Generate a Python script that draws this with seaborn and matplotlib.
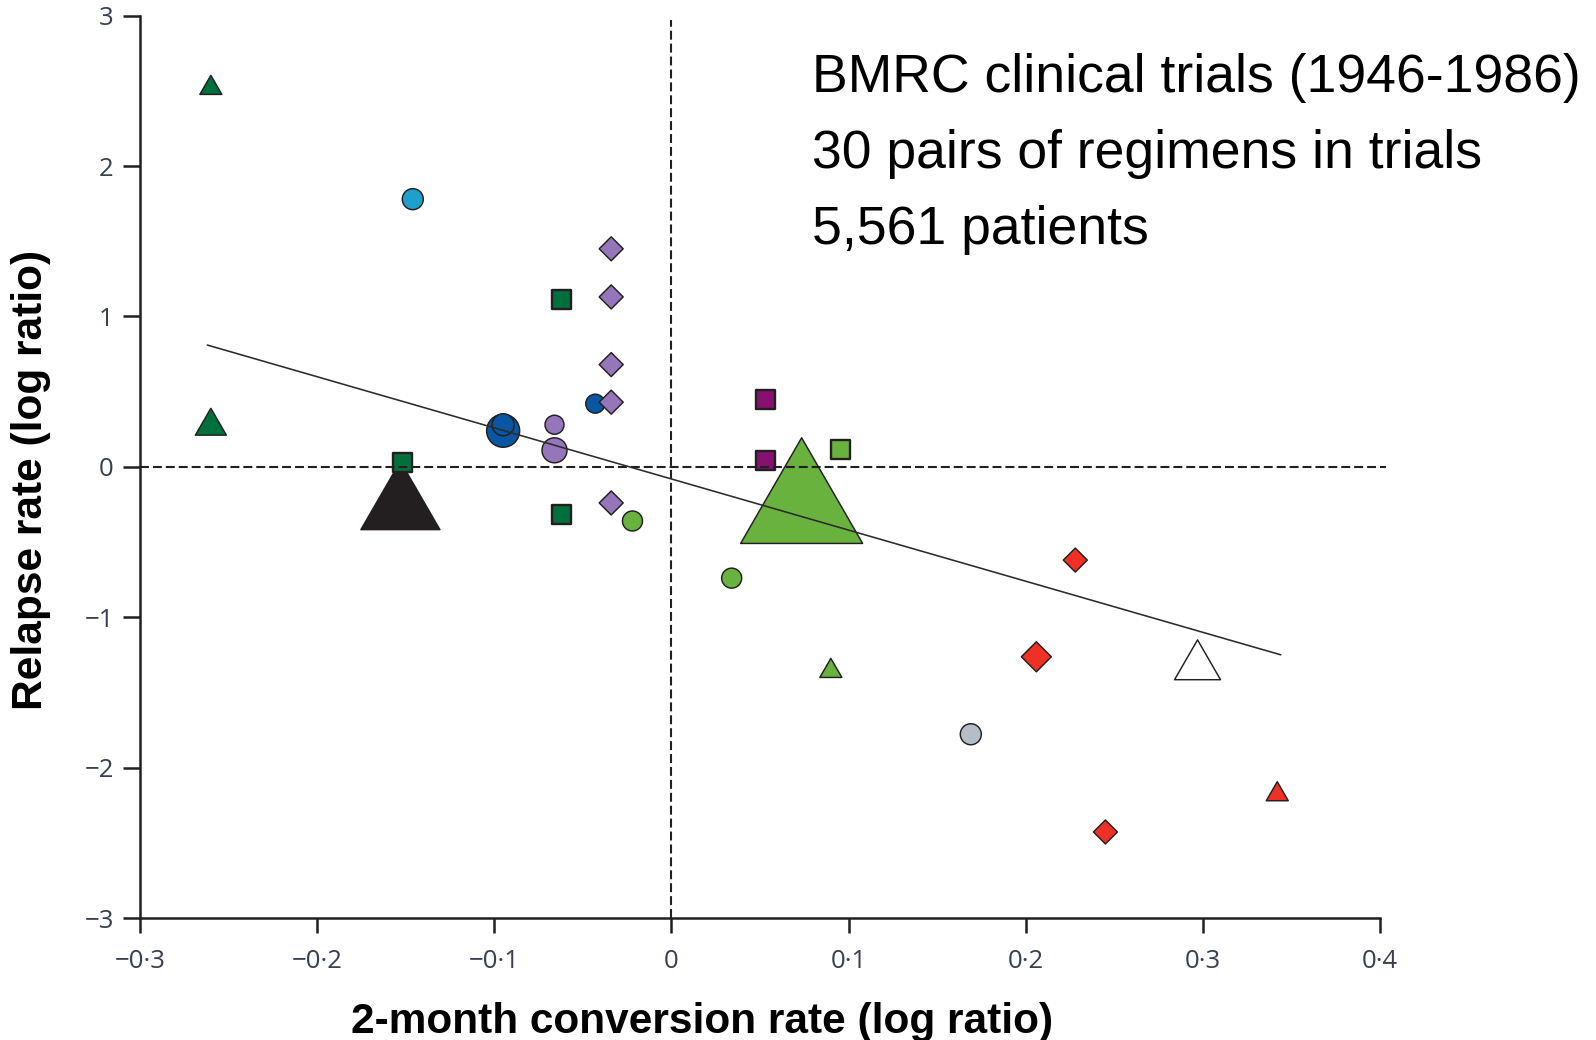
import matplotlib
matplotlib.use("Agg")
import matplotlib.pyplot as plt
from matplotlib.markers import MarkerStyle
from matplotlib.path import Path
import pandas as pd
import seaborn as sns

# Log ratios for each pair of regimens compared in the BMRC trials
conversion = [-0.260, -0.260, -0.146, -0.062, -0.152, -0.062,
              -0.034, -0.034, -0.034, -0.034, -0.034,
              -0.043, -0.095, -0.095, -0.066, -0.066,
              -0.153, -0.022, 0.034, 0.053, 0.053, 0.0955,
              0.0735, 0.090, 0.228, 0.206, 0.245, 0.342, 0.297, 0.169]
relapse = [2.54, 0.30, 1.78, 1.11, 0.03, -0.32,
           1.45, 1.13, 0.68, 0.43, -0.24,
           0.42, 0.24, 0.28, 0.28, 0.11,
           -0.19, -0.36, -0.74, 0.45, 0.04, 0.116,
           -0.158, -1.337, -0.62, -1.263, -2.428, -2.157, -1.283, -1.778]
group = ["forest", "forest", "cyan", "forest", "forest", "forest",
         "lilac", "lilac", "lilac", "lilac", "lilac",
         "blue", "blue", "blue", "lilac", "lilac",
         "black", "lime", "lime", "plum", "plum", "lime",
         "lime", "lime", "red", "red", "red", "red", "white", "grey"]
shape = ["triangle", "triangle", "circle", "square", "square", "square",
         "diamond", "diamond", "diamond", "diamond", "diamond",
         "circle", "circle", "circle", "circle", "circle",
         "triangle", "circle", "circle", "square", "square", "square",
         "triangle", "triangle", "diamond", "diamond", "diamond",
         "triangle", "triangle", "circle"]
# relative size of each comparison (number of patients)
weight = [1.1, 1.55, 1.05, 0.95, 0.95, 0.95,
          1.2, 1.2, 1.2, 1.2, 1.2,
          0.95, 1.65, 1.1, 0.95, 1.25,
          3.95, 1.0, 1.0, 0.95, 0.95, 0.95,
          6.1, 1.1, 1.2, 1.5, 1.2, 1.1, 2.3, 1.05]

# weighted regression line
fit_x = [-0.262, 0.344]
fit_y = [0.81, -1.25]

x_ticks = [-0.3, -0.2, -0.1, 0.0, 0.1, 0.2, 0.3, 0.4]
x_tick_labels = ["\u22120\u00b73", "\u22120\u00b72", "\u22120\u00b71", "0",
                 "0\u00b71", "0\u00b72", "0\u00b73", "0\u00b74"]
y_ticks = [-3, -2, -1, 0, 1, 2, 3]
y_tick_labels = ["\u22123", "\u22122", "\u22121", "0", "1", "2", "3"]

notes = ["BMRC clinical trials (1946-1986)",
         "30 pairs of regimens in trials",
         "5,561 patients"]

palette = {
    "forest": "#00703C", "lime": "#69B23D", "cyan": "#1DA0CC",
    "blue": "#0A56A3", "lilac": "#9676BA", "plum": "#881071",
    "red": "#EE3124", "grey": "#B5BDC6", "black": "#231F20",
    "white": "#FFFFFF",
}

df = pd.DataFrame({"conversion": conversion, "relapse": relapse,
                   "group": group, "shape": shape, "weight": weight})

BASE_PX = 20.0
sizes = {w: (w * BASE_PX * 0.72) ** 2 for w in df["weight"].unique()}

tri = MarkerStyle(Path([(-1, -0.866), (1, -0.866), (0, 0.866), (-1, -0.866)],
                       [Path.MOVETO, Path.LINETO, Path.LINETO, Path.CLOSEPOLY]))
dia = MarkerStyle(Path([(0, 1), (1, 0), (0, -1), (-1, 0), (0, 1)],
                       [Path.MOVETO, Path.LINETO, Path.LINETO, Path.LINETO,
                        Path.CLOSEPOLY]))
markers = {"triangle": (tri, 1.05), "circle": ("o", 1.05),
           "square": ("s", 1.7), "diamond": (dia, 1.05)}

sns.set_style("ticks")
plt.rcParams["font.family"] = ["DejaVu Sans"]

fig = plt.figure(figsize=(15.96, 10.40), dpi=100)
ax = fig.add_axes([140 / 1596, 1 - 918 / 1040, 1240 / 1596, 902.3 / 1040])

ink = "#231F20"
for kind in ["triangle", "circle", "square", "diamond"]:
    sub = df[df["shape"] == kind].sort_values("weight", ascending=False,
                                               kind="stable")
    m, lw = markers[kind]
    sns.scatterplot(data=sub, x="conversion", y="relapse", hue="group",
                    palette=palette, size="weight", sizes=sizes,
                    marker=m, edgecolor=ink, linewidth=lw, alpha=1,
                    legend=False, ax=ax, zorder=2)

# reference lines at zero and the regression fit
ax.axhline(0, 0, 1.005, color=ink, lw=1.5, dashes=(4.3, 1.9), zorder=3,
           clip_on=False)
ax.axvline(0, 0, 0.995, color=ink, lw=1.5, dashes=(4.3, 1.9), zorder=3)
sns.lineplot(x=fit_x, y=fit_y, color="#2B2B2B", lw=1.15, ax=ax, zorder=4)

ax.set_xlim(-0.3, 0.4)
ax.set_ylim(-3, 3)

tick_color = "#36404F"
ax.set_xticks(x_ticks)
ax.set_xticklabels(x_tick_labels)
ax.set_yticks(y_ticks)
ax.set_yticklabels(y_tick_labels)
sns.despine(ax=ax)
for side in ["left", "bottom"]:
    ax.spines[side].set_linewidth(1.8)
    ax.spines[side].set_color(ink)

ax.tick_params(axis="x", length=11, width=1.8, color=ink, pad=11,
               labelsize=18.5, labelcolor=tick_color,
               labelfontfamily="Open Sans")
ax.tick_params(axis="y", length=12, width=1.8, color=ink, pad=7,
               labelsize=18.5, labelcolor=tick_color,
               labelfontfamily="Open Sans")

label_font = dict(family="Liberation Sans", weight="bold", size=30.5,
                  color="black")
ax.set_xlabel("2-month conversion rate (log ratio)", **label_font)
ax.xaxis.label.set_va("baseline")
ax.xaxis.set_label_coords((702 - 140) / 1240, (918 - 1033) / 902.3)
ax.set_ylabel("Relapse rate (log ratio)", **label_font)
ax.yaxis.label.set_va("center")
ax.yaxis.set_label_coords((31 - 140) / 1240, (918 - 480) / 902.3)

for i, line in enumerate(notes):
    fig.text(812 / 1596, 1 - (92 + 76 * i) / 1040, line,
             family="Liberation Sans", size=38.5, color="#000000",
             va="baseline", ha="left")

fig.savefig("out.png", dpi=100)
